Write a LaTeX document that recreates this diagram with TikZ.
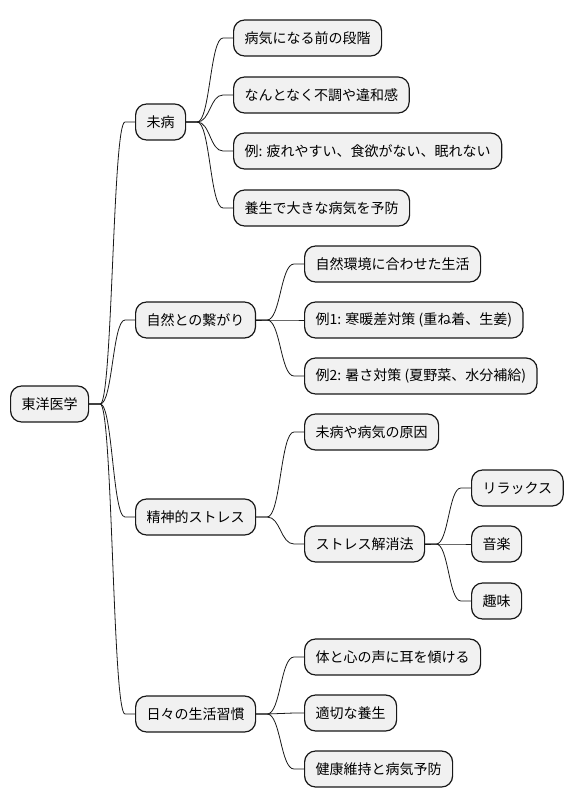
\documentclass[tikz,border=0pt]{standalone}
\usepackage{fontspec}
\setmainfont{Noto Sans CJK JP}
\usetikzlibrary{calc}

\definecolor{boxfill}{HTML}{F1F1F1}
\definecolor{boxline}{HTML}{181818}

\tikzset{
  topic/.style={draw=boxline, fill=boxfill, line width=1.2pt, rounded corners=11pt,
    anchor=west, minimum height=36pt, inner xsep=11pt, font=\fontsize{14pt}{16pt}\selectfont},
  branch/.style={draw=boxline, line width=0.8pt}
}

\begin{document}
\begin{tikzpicture}[x=1pt, y=-1pt]
\useasboundingbox (0, 0) rectangle (572, 809);

\node[topic] (root) at (10, 404) {東洋医学};

\node[topic] (mibyo) at (135, 122) {未病};
\node[topic] (shizen) at (135, 320) {自然との繋がり};
\node[topic] (seishin) at (135, 517) {精神的ストレス};
\node[topic] (hibi) at (135, 714) {日々の生活習慣};

\node[topic] (mibyo1) at (233, 38) {病気になる前の段階};
\node[topic] (mibyo2) at (233, 95) {なんとなく不調や違和感};
\node[topic] (mibyo3) at (233, 151) {例: 疲れやすい、食欲がない、眠れない};
\node[topic] (mibyo4) at (233, 208) {養生で大きな病気を予防};

\node[topic] (shizen1) at (304, 264) {自然環境に合わせた生活};
\node[topic] (shizen2) at (304, 320) {例1: 寒暖差対策 (重ね着、生姜)};
\node[topic] (shizen3) at (304, 376) {例2: 暑さ対策 (夏野菜、水分補給)};

\node[topic] (seishin1) at (304, 432) {未病や病気の原因};
\node[topic] (kaisho) at (304, 544) {ストレス解消法};
\node[topic] (kaisho1) at (471, 488) {リラックス};
\node[topic] (kaisho2) at (471, 544) {音楽};
\node[topic] (kaisho3) at (471, 601) {趣味};

\node[topic] (hibi1) at (304, 657) {体と心の声に耳を傾ける};
\node[topic] (hibi2) at (304, 713) {適切な養生};
\node[topic] (hibi3) at (304, 769) {健康維持と病気予防};

% connectors: short stub, S-curve, short stub
\foreach \src/\dst in {root/mibyo, root/shizen, root/seishin, root/hibi,
    mibyo/mibyo1, mibyo/mibyo2, mibyo/mibyo3, mibyo/mibyo4,
    shizen/shizen1, shizen/shizen2, shizen/shizen3,
    seishin/seishin1, seishin/kaisho,
    kaisho/kaisho1, kaisho/kaisho2, kaisho/kaisho3,
    hibi/hibi1, hibi/hibi2, hibi/hibi3}
  \draw[branch] let \p1=($(\src.east)+(11,0)$), \p2=($(\dst.west)-(10,0)$) in
    (\src.east) -- (\p1) .. controls ({(\x1+\x2)/2}, \y1) and ({(\x1+\x2)/2}, \y2) .. (\p2) -- (\dst.west);
\end{tikzpicture}
\end{document}
